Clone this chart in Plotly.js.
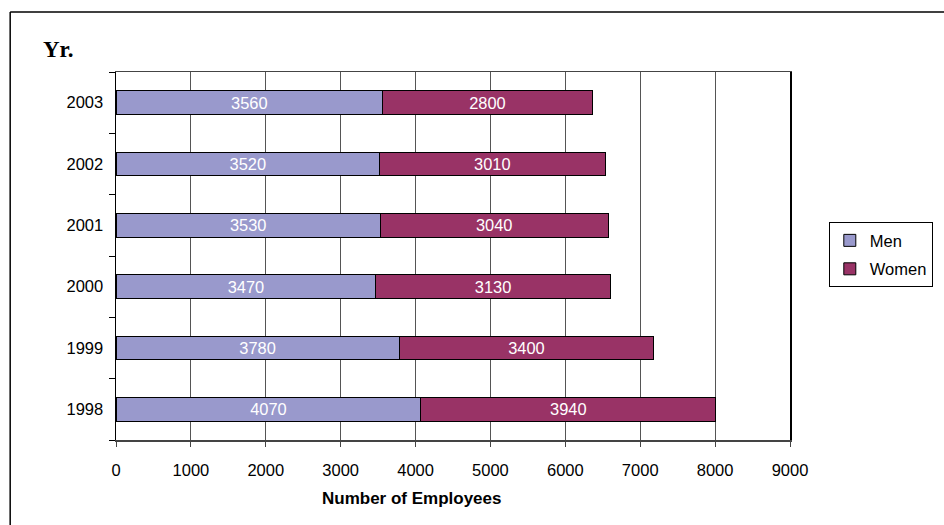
<!DOCTYPE html>
<html>
<head>
<meta charset="utf-8">
<script src="https://cdn.plot.ly/plotly-3.0.1.min.js"></script>
<style>
  html, body { margin: 0; padding: 0; background: #fff; }
  #chart { width: 944px; height: 525px; }
</style>
</head>
<body>
<div id="chart"></div>
<script>
// Employees per year, split by gender
const years = ['1998', '1999', '2000', '2001', '2002', '2003'];
const men = [4070, 3780, 3470, 3530, 3520, 3560];
const women = [3940, 3400, 3130, 3040, 3010, 2800];
const xTicks = [0, 1000, 2000, 3000, 4000, 5000, 6000, 7000, 8000, 9000];

const FONT = 'Liberation Sans, Arial, sans-serif';

function series(name, values, color, group) {
  return {
    type: 'bar',
    orientation: 'h',
    name: name,
    y: years,
    x: values,
    legendgroup: group,
    marker: { color: color, line: { color: '#000', width: 1 } },
    text: values.map(String),
    textposition: 'inside',
    insidetextanchor: 'middle',
    textangle: 0,
    insidetextfont: { family: FONT, size: 16.5, color: '#ffffff' },
    hoverinfo: 'x+y+name'
  };
}

const data = [
  series('Men', men, '#9999CC', 'a'),
  series('Women', women, '#993366', 'b')
];

const layout = {
  width: 944,
  height: 525,
  margin: { l: 116, r: 153, t: 72, b: 85 },
  paper_bgcolor: '#fff',
  plot_bgcolor: '#fff',
  barmode: 'stack',
  bargap: 0.61,
  font: { family: FONT, size: 16.5, color: '#000' },
  showlegend: true,
  legend: {
    x: 1.056, y: 0.592, xanchor: 'left', yanchor: 'top',
    bordercolor: '#000', borderwidth: 1, bgcolor: '#fff',
    traceorder: 'grouped', tracegroupgap: 4,
    font: { family: FONT, size: 16.5, color: '#000' }
  },
  xaxis: {
    range: [0, 9000],
    tickvals: xTicks,
    ticktext: xTicks.map(String),
    showgrid: true, gridcolor: '#555', gridwidth: 1,
    zeroline: false,
    showline: true, linecolor: '#444', linewidth: 1.5, mirror: true,
    ticks: 'outside', ticklen: 5, tickcolor: '#444',
    ticklabelstandoff: 10,
    tickfont: { family: FONT, size: 16.5 }
  },
  yaxis: {
    type: 'category',
    categoryorder: 'array',
    categoryarray: years,
    tickson: 'boundaries',
    ticks: 'outside', ticklen: 6, tickcolor: '#000',
    showgrid: false, zeroline: false,
    showline: true, linecolor: '#000', linewidth: 1.5, mirror: true,
    ticklabelstandoff: 8,
    tickfont: { family: FONT, size: 16.5 }
  },
  annotations: [
    {
      text: '<b>Yr.</b>', xref: 'paper', yref: 'paper',
      x: -0.1111, y: 1.0598, xanchor: 'left', yanchor: 'middle',
      showarrow: false,
      font: { family: 'Liberation Serif, Times New Roman, serif', size: 23, color: '#000' }
    },
    {
      text: '<b>Number of Employees</b>', xref: 'paper', yref: 'paper',
      x: 0.4385, y: -0.160, xanchor: 'center', yanchor: 'middle',
      showarrow: false,
      font: { family: FONT, size: 17, color: '#000' }
    }
  ],
  shapes: [
    // chart frame: left and top edges (the rest runs past the page)
    {
      type: 'line', xref: 'paper', yref: 'paper',
      x0: -0.157, x1: -0.157, y0: -0.3, y1: 1.163,
      line: { color: '#000', width: 1.5 }, layer: 'below'
    },
    {
      type: 'line', xref: 'paper', yref: 'paper',
      x0: -0.157, x1: 1.3, y0: 1.163, y1: 1.163,
      line: { color: '#000', width: 1.5 }, layer: 'below'
    }
  ]
};

Plotly.newPlot('chart', data, layout, { displayModeBar: false, staticPlot: true });
</script>
</body>
</html>
